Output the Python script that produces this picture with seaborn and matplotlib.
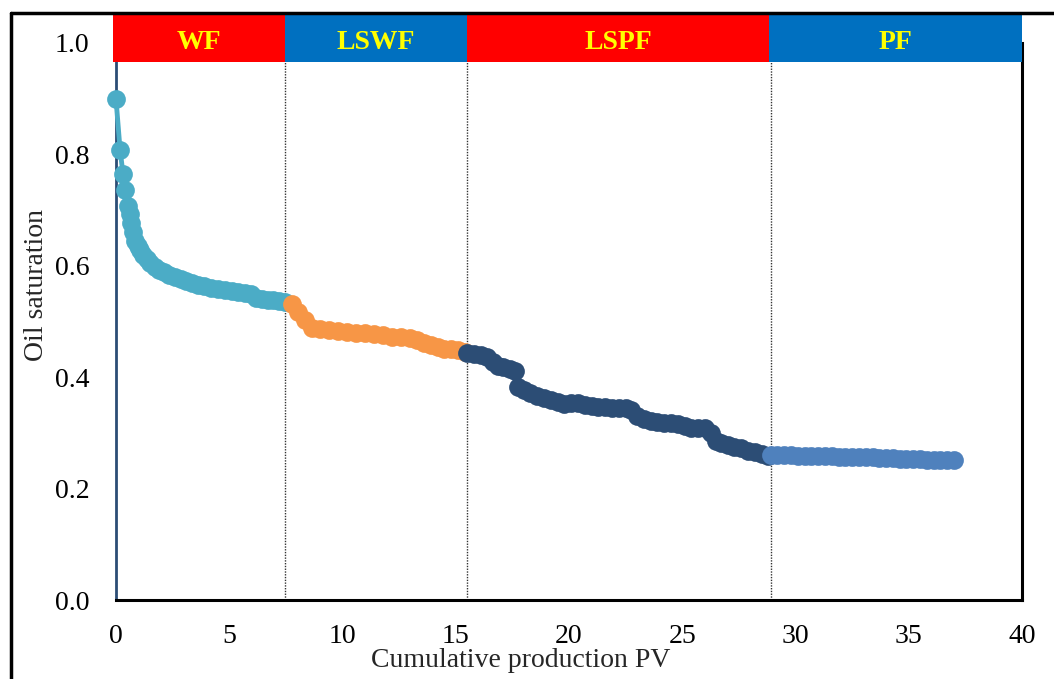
import matplotlib
matplotlib.use("Agg")
import matplotlib.pyplot as plt
from matplotlib.patches import Rectangle
from matplotlib.lines import Line2D
import seaborn as sns
import pandas as pd

# Oil saturation vs cumulative production (PV) for each flooding stage
wf_pv = [0, 0.18, 0.31, 0.40, 0.53, 0.60, 0.68, 0.76, 0.85, 0.95, 1.06, 1.2, 1.35, 1.5,
         1.7, 1.9, 2.1, 2.35, 2.6, 2.85, 3.1, 3.35, 3.6, 3.9, 4.2, 4.5, 4.8, 5.1, 5.4,
         5.7, 5.95, 6.2, 6.45, 6.7, 6.95, 7.2, 7.45]
wf_so = [0.899, 0.808, 0.765, 0.736, 0.707, 0.693, 0.676, 0.660, 0.645, 0.636, 0.628,
         0.620, 0.612, 0.605, 0.598, 0.592, 0.588, 0.584, 0.580, 0.577, 0.573, 0.569,
         0.566, 0.563, 0.561, 0.559, 0.557, 0.555, 0.553, 0.552, 0.550, 0.543, 0.541,
         0.539, 0.538, 0.536, 0.535]

lswf_pv = [7.75, 8.04, 8.34, 8.65, 9.0, 9.4, 9.8, 10.2, 10.6, 11.0, 11.4, 11.8, 12.2,
           12.6, 13.0, 13.3, 13.6, 13.9, 14.2, 14.5, 14.8, 15.1, 15.4]
lswf_so = [0.531, 0.517, 0.503, 0.488, 0.487, 0.485, 0.483, 0.481, 0.480, 0.479, 0.477,
           0.475, 0.473, 0.472, 0.470, 0.467, 0.462, 0.458, 0.454, 0.451, 0.450, 0.449,
           0.446]

lspf_pv = [15.5, 15.8, 16.1, 16.4, 16.65, 16.85, 17.1, 17.4, 17.6, 17.75, 18.0, 18.3,
           18.6, 18.9, 19.2, 19.5, 19.8, 20.1, 20.4, 20.7, 21.0, 21.3, 21.6, 21.9, 22.2,
           22.5, 22.75, 23.0, 23.3, 23.6, 23.9, 24.2, 24.5, 24.8, 25.1, 25.4, 25.7,
           26.0, 26.25, 26.5, 26.7, 27.0, 27.3, 27.6, 27.9, 28.2, 28.5, 28.8]
lspf_so = [0.443, 0.441, 0.440, 0.436, 0.428, 0.421, 0.418, 0.415, 0.412, 0.382, 0.377,
           0.372, 0.367, 0.363, 0.359, 0.356, 0.352, 0.354, 0.353, 0.350, 0.348, 0.347,
           0.346, 0.345, 0.344, 0.344, 0.341, 0.330, 0.325, 0.322, 0.320, 0.318, 0.317,
           0.316, 0.313, 0.308, 0.309, 0.309, 0.300, 0.285, 0.282, 0.279, 0.275, 0.272,
           0.268, 0.265, 0.262, 0.259]

pf_pv = [28.9, 29.2, 29.5, 29.8, 30.1, 30.4, 30.7, 31.0, 31.3, 31.6, 31.9, 32.2, 32.5,
         32.8, 33.1, 33.4, 33.7, 34.0, 34.3, 34.6, 34.9, 35.2, 35.5, 35.8, 36.1, 36.4,
         36.7, 37.0]
pf_so = [0.260, 0.260, 0.260, 0.260, 0.259, 0.259, 0.259, 0.259, 0.258, 0.258, 0.257,
         0.257, 0.257, 0.256, 0.256, 0.256, 0.255, 0.255, 0.255, 0.254, 0.254, 0.253,
         0.253, 0.252, 0.252, 0.252, 0.251, 0.251]

# Stage bands along the top
stage_names = ["WF", "LSWF", "LSPF", "PF"]
stage_edges = [-0.15, 7.45, 15.5, 28.85, 40.0]
stage_colors = ["#ff0000", "#0070c0", "#ff0000", "#0070c0"]
boundaries = [7.45, 15.5, 28.9]

x_ticks = [0, 5, 10, 15, 20, 25, 30, 35, 40]
y_ticks = [0.0, 0.2, 0.4, 0.6, 0.8, 1.0]

series = [
    (wf_pv, wf_so, "#4bacc6"),
    (lswf_pv, lswf_so, "#f79646"),
    (lspf_pv, lspf_so, "#2c4d75"),
    (pf_pv, pf_so, "#4f81bd"),
]

sns.set_style("white")
plt.rcParams["font.family"] = ["Liberation Serif", "DejaVu Serif"]

fig = plt.figure(figsize=(10.54, 6.79), dpi=100)
ax = fig.add_axes([116 / 1054, 1 - 600 / 679, (1022 - 116) / 1054, (600 - 43) / 679])

for pv, so, col in series:
    df = pd.DataFrame({"pv": pv, "so": so})
    sns.lineplot(data=df, x="pv", y="so", ax=ax, sort=False, color=col, linewidth=3.5,
                 marker="o", markersize=13.5, markeredgewidth=0, zorder=3,
                 clip_on=False)

ax.set_xlim(0, 40)
ax.set_ylim(0, 1.0)
ax.set_xticks(x_ticks)
ax.set_yticks(y_ticks)
ax.set_yticklabels([f"{v:.1f}" for v in y_ticks])
ax.set_xticklabels([str(v) for v in x_ticks])

ax.tick_params(axis="x", direction="in", length=8, width=1.5, colors="black",
               labelsize=20, pad=17)
ax.tick_params(axis="y", direction="in", length=8, width=1.5, colors="#2c4d75",
               labelsize=20, labelcolor="black", pad=19)

ax.set_xlabel("Cumulative production PV", fontsize=20)
ax.set_ylabel("Oil saturation", fontsize=20)
ax.xaxis.set_label_coords(0.447, -0.086)
ax.yaxis.set_label_coords(-0.074, 0.566)

ax.spines["top"].set_visible(False)
ax.spines["left"].set_color("#2c4d75")
ax.spines["left"].set_linewidth(2)
ax.spines["bottom"].set_color("black")
ax.spines["bottom"].set_linewidth(2.2)
ax.spines["right"].set_color("black")
ax.spines["right"].set_linewidth(2.2)

# Stage boundaries
for b in boundaries:
    ax.axvline(b, ymin=0, ymax=0.966, color="#333333", linestyle=(0, (1, 1)),
               linewidth=1, zorder=2)

# Stage header bands
band_lo, band_hi = 0.966, 1.052
for name, x0, x1, col in zip(stage_names, stage_edges[:-1], stage_edges[1:], stage_colors):
    ax.add_patch(Rectangle((x0, band_lo), x1 - x0, band_hi - band_lo, facecolor=col,
                           edgecolor="none", clip_on=False, zorder=5))
    ax.text((x0 + x1) / 2, 1.001, name, color="#ffff00",
            fontsize=20, fontweight="bold", ha="center", va="center",
            zorder=6, clip_on=False)

# Outer frame
fig.add_artist(Line2D([11 / 1054, 11 / 1054], [0, 1 - 13 / 679], transform=fig.transFigure,
                      color="black", linewidth=2.5))
fig.add_artist(Line2D([11 / 1054, 1], [1 - 13 / 679, 1 - 13 / 679], transform=fig.transFigure,
                      color="black", linewidth=2.5))

fig.savefig("out.png", dpi=100)
